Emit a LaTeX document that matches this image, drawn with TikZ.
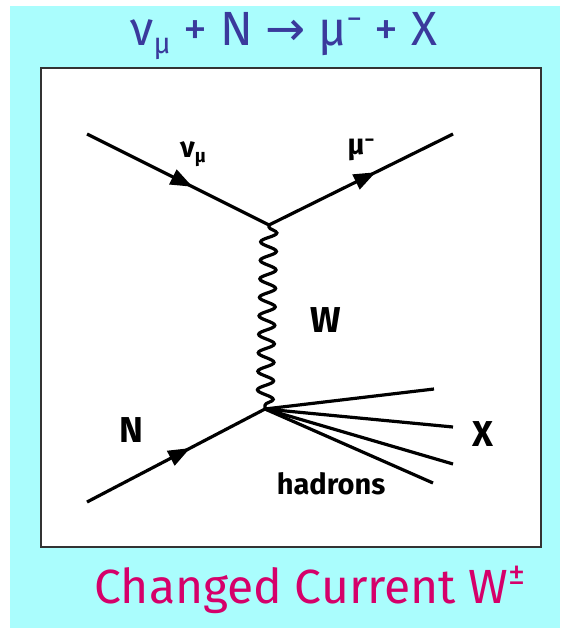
\documentclass[tikz,border=0pt]{standalone}
\usepackage{fontspec}
\setmainfont{Fira Sans}
\newfontfamily\dvfont{DejaVu Sans}
\usetikzlibrary{decorations.pathmorphing,decorations.markings,arrows.meta}
\definecolor{bgcyan}{HTML}{AAFDFD}
\definecolor{titleblue}{HTML}{3A3A9C}
\definecolor{capmag}{HTML}{D5006A}
\definecolor{boxline}{HTML}{333333}
\begin{document}
\begin{tikzpicture}[x=1pt,y=-1pt,
  fermion/.style={line width=3.2pt,
    postaction={decorate},
    decoration={markings,mark=at position 0.58 with {\arrow{Triangle[length=22pt,width=16pt]}}}},
  plain/.style={line width=3.2pt},
  boson/.style={line width=3.2pt,decorate,decoration={snake,amplitude=8pt,segment length=18.5pt,pre length=2pt,post length=2pt}},
  lbl/.style={font=\fontsize{36}{36}\selectfont\bfseries,inner sep=0pt},
  greek/.style={font=\fontsize{29}{29}\selectfont\bfseries,inner sep=0pt}]
\useasboundingbox (0,0) rectangle (560,628);
\fill[white] (0,0) rectangle (560,628);
\fill[bgcyan] (10,6) rectangle (560,628);
\draw[boxline,line width=2.8pt,fill=white] (41,68) rectangle (541,547);
% vertices and end points
\coordinate (v1) at (269,225);
\coordinate (v2) at (265,409);
\coordinate (nuin) at (87,134);
\coordinate (muout) at (453,134);
\coordinate (nin) at (87,502);
\coordinate (h1) at (434,389);
\coordinate (h2) at (453,427);
\coordinate (h3) at (453,464);
\coordinate (h4) at (433,483);
\draw[fermion] (nuin) -- (v1);
\draw[fermion] (v1) -- (muout);
\draw[fermion] (nin) -- (v2);
\draw[boson] (v1) -- (v2);
\draw[plain] (v2) -- (h1);
\draw[plain] (v2) -- (h2);
\draw[plain] (v2) -- (h3);
\draw[plain] (v2) -- (h4);
% labels
\node[greek] (lnu) at (193,154) {ν\raisebox{-0.35ex}{\fontsize{19}{19}\selectfont μ}};
\node[greek] (lmu) at (361,150) {μ\raisebox{0.55ex}{\fontsize{19}{19}\selectfont −}};
\node[lbl] (lw) at (326,320) {W};
\node[lbl] (ln) at (131,430) {N};
\node[lbl] (lx) at (483,434) {X};
\node[inner sep=0pt,font=\fontsize{29}{29}\selectfont\bfseries] (lh) at (331,484) {hadrons};
% title and caption
\node[inner sep=0pt,text=titleblue,font=\fontsize{48}{48}\selectfont] (title) at (284,36)
  {ν\raisebox{-0.35ex}{\fontsize{29}{29}\selectfont μ} + N {\dvfont →} μ\raisebox{0.6ex}{\fontsize{31}{31}\selectfont −} + X};
\node[inner sep=0pt,text=capmag,font=\fontsize{48}{48}\selectfont] (cap) at (310,590)
  {Changed Current W\raisebox{0.75ex}{\fontsize{34}{34}\selectfont ±}};
\end{tikzpicture}
\end{document}
